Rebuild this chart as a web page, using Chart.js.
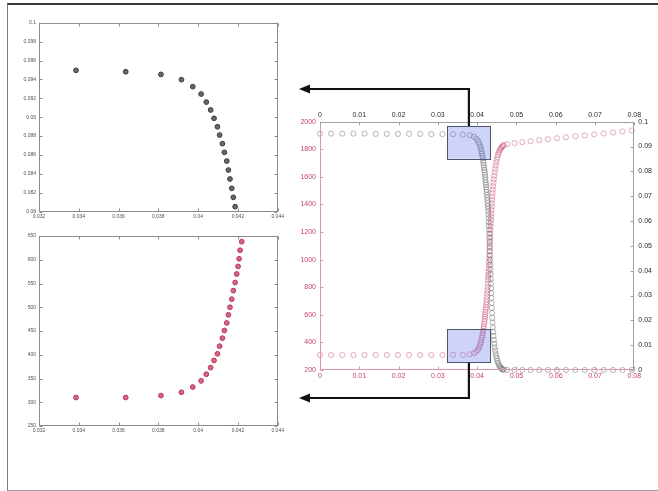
<!DOCTYPE html>
<html>
<head>
<meta charset="utf-8">
<script src="https://cdn.jsdelivr.net/npm/chart.js@4.4.1/dist/chart.umd.min.js"></script>
<style>
  html, body { margin: 0; padding: 0; background: #fff; }
  #wrap { position: relative; width: 658px; height: 491px; overflow: hidden; background: #fff; }
  #frame { position: absolute; left: 7px; top: 3px; width: 700px; height: 485px;
           border-top: 2px solid #3a3a3a; border-left: 1px solid #7a7a7a; border-bottom: 2px solid #9a9a9a; }
  canvas { position: absolute; }
</style>
</head>
<body>
<div id="wrap">
  <div id="frame"></div>
  <canvas id="main" width="658" height="491" style="left:0;top:0"></canvas>
  <canvas id="insetTop" width="290" height="225" style="left:0;top:0"></canvas>
  <canvas id="insetBottom" width="290" height="225" style="left:0;top:225px"></canvas>
</div>
<script>
// Sample positions shared by both profiles
const positions = [
  0, 0.00283, 0.00567, 0.0085, 0.01133, 0.01417, 0.017, 0.01983, 0.02267, 0.0255, 0.02833, 0.03117,
  0.03386, 0.03636, 0.03813, 0.03916, 0.03973, 0.04015, 0.04041, 0.04063, 0.0408, 0.04097, 0.04108, 0.04122,
  0.04132, 0.04144, 0.04152, 0.0416, 0.04169, 0.04177, 0.04186, 0.04194, 0.04201, 0.04206, 0.04211, 0.04219,
  0.04225, 0.04231, 0.04237, 0.04243, 0.04249, 0.04255, 0.04261, 0.04267, 0.04273, 0.04279,
  0.04283, 0.04287, 0.04291, 0.04295, 0.04299, 0.04303, 0.04307, 0.04311, 0.04315, 0.04319,
  0.04323, 0.04327, 0.04331, 0.04335, 0.04339, 0.04343, 0.04347, 0.04351, 0.04355, 0.04359,
  0.04364, 0.04369, 0.04374, 0.0438, 0.04386, 0.04393, 0.044, 0.04408, 0.04416, 0.04425,
  0.04435, 0.04446, 0.04458, 0.04471, 0.04485, 0.045, 0.04516, 0.04533, 0.04551, 0.0457,
  0.0459, 0.04611, 0.04633, 0.04656, 0.0468,
  0.0476, 0.0495, 0.0515, 0.0536, 0.0558, 0.058, 0.0603, 0.0626, 0.065, 0.0674, 0.0698, 0.0722, 0.0746, 0.077, 0.0794
];

// Black profile (right axis)
const blackProfile = [
  0.0952, 0.0952, 0.0952, 0.0952, 0.0952, 0.0951, 0.0951, 0.0951, 0.0951, 0.0951, 0.0950, 0.0950,
  0.09496, 0.09481, 0.09453, 0.09397, 0.09323, 0.09245, 0.0916, 0.09076, 0.08988, 0.08899, 0.08811, 0.0872,
  0.08628, 0.08536, 0.08441, 0.08346, 0.08247, 0.08152, 0.08053, 0.0796, 0.0786, 0.0776, 0.0766, 0.0756,
  0.0746, 0.0736, 0.0726, 0.0716, 0.0705, 0.0694, 0.0683, 0.0672, 0.0661, 0.065,
  0.0638, 0.0625, 0.0611, 0.0596, 0.0581, 0.0565, 0.0549, 0.0532, 0.0515, 0.0497,
  0.0479, 0.0461, 0.0443, 0.0424, 0.0405, 0.0386, 0.0367, 0.0348, 0.0329, 0.031,
  0.029, 0.027, 0.025, 0.023, 0.021, 0.0191, 0.0172, 0.0154, 0.0137, 0.0121,
  0.0106, 0.0092, 0.0079, 0.0067, 0.0056, 0.0046, 0.0037, 0.0029, 0.0022, 0.0016,
  0.0011, 0.0007, 0.0004, 0.0002, 0.0001,
  0, 0, 0, 0, 0, 0, 0, 0, 0, 0, 0, 0, 0, 0, 0
];

// Red profile (left axis)
const redProfile = [
  309, 309, 309, 309, 309, 309, 309, 309, 309, 309, 309, 309,
  310, 310, 314, 321, 332, 345, 359, 373, 388, 402, 418, 435,
  451, 467, 484, 500, 517, 535, 552, 570, 586, 602, 620, 638,
  655, 673, 692, 712, 733, 755, 778, 802, 827, 853,
  872, 892, 913, 935, 958, 982, 1007, 1033, 1059, 1085,
  1111, 1137, 1163, 1189, 1215, 1240, 1265, 1289, 1312, 1334,
  1360, 1385, 1409, 1434, 1458, 1483, 1508, 1533, 1558, 1583,
  1608, 1633, 1658, 1682, 1705, 1726, 1745, 1762, 1777, 1790,
  1801, 1810, 1818, 1825, 1831,
  1837, 1845, 1852, 1859, 1866, 1873, 1880, 1887, 1894, 1901, 1908, 1915, 1922, 1929, 1936
];

// Tick values and labels
const mainXTicks = [0, 0.01, 0.02, 0.03, 0.04, 0.05, 0.06, 0.07, 0.08];
const mainXLabels = ['0', '0.01', '0.02', '0.03', '0.04', '0.05', '0.06', '0.07', '0.08'];
const leftTicks = [200, 400, 600, 800, 1000, 1200, 1400, 1600, 1800, 2000];
const leftLabels = ['200', '400', '600', '800', '1000', '1200', '1400', '1600', '1800', '2000'];
const rightTicks = [0, 0.01, 0.02, 0.03, 0.04, 0.05, 0.06, 0.07, 0.08, 0.09, 0.1];
const rightLabels = ['0', '0.01', '0.02', '0.03', '0.04', '0.05', '0.06', '0.07', '0.08', '0.09', '0.1'];
const zoomXTicks = [0.032, 0.034, 0.036, 0.038, 0.04, 0.042, 0.044];
const zoomXLabels = ['0.032', '0.034', '0.036', '0.038', '0.04', '0.042', '0.044'];
const zoomBlackTicks = [0.08, 0.082, 0.084, 0.086, 0.088, 0.09, 0.092, 0.094, 0.096, 0.098, 0.1];
const zoomBlackLabels = ['0.08', '0.082', '0.084', '0.086', '0.088', '0.09', '0.092', '0.094', '0.096', '0.098', '0.1'];
const zoomRedTicks = [250, 300, 350, 400, 450, 500, 550, 600, 650];
const zoomRedLabels = ['250', '300', '350', '400', '450', '500', '550', '600', '650'];

// Highlighted regions on the main plot
const boxX = [0.0324, 0.0434];
const boxBlackY = [0.0851, 0.0983];
const boxRedY = [253, 495];

Chart.defaults.font.family = '"Liberation Sans", Arial, sans-serif';

const RED = '#c4436a';
const RED_AXIS = '#dc98a8';
const GRAY_AXIS = '#a0a0a0';

function fixedTicks(values, labels, color, size, padding) {
  return {
    afterBuildTicks: s => { s.ticks = values.map(v => ({ value: v })); },
    ticks: { color, font: { size }, padding, autoSkip: false, maxRotation: 0,
             callback: (v, i) => labels[i] }
  };
}

function axis(base, extra) {
  return Object.assign({ type: 'linear',
                         grid: { display: false, drawTicks: false, tickLength: 0 },
                         border: { display: false } }, base, extra);
}

// Draws axis lines plus short inward tick marks
const frameTicks = {
  id: 'frameTicks',
  afterDatasetsDraw(chart, args, opts) {
    const ctx = chart.ctx, a = chart.chartArea, len = opts.len || 3;
    ctx.save();
    ctx.lineWidth = 1;
    for (const s of opts.sides) {
      const sc = chart.scales[s.scale];
      ctx.strokeStyle = s.color;
      ctx.beginPath();
      if (s.side === 'left') {
        const x = Math.round(a.left) + 0.5;
        ctx.moveTo(x, a.top); ctx.lineTo(x, a.bottom);
        sc.ticks.forEach(t => { const y = Math.round(sc.getPixelForValue(t.value)) + 0.5; ctx.moveTo(x, y); ctx.lineTo(x + len, y); });
      } else if (s.side === 'right') {
        const x = Math.round(a.right) - 0.5;
        ctx.moveTo(x, a.top); ctx.lineTo(x, a.bottom);
        sc.ticks.forEach(t => { const y = Math.round(sc.getPixelForValue(t.value)) + 0.5; ctx.moveTo(x, y); ctx.lineTo(x - len, y); });
      } else if (s.side === 'top') {
        const y = Math.round(a.top) + 0.5;
        ctx.moveTo(a.left, y); ctx.lineTo(a.right, y);
        sc.ticks.forEach(t => { const x = Math.round(sc.getPixelForValue(t.value)) + 0.5; ctx.moveTo(x, y); ctx.lineTo(x, y + len); });
      } else {
        const y = Math.round(a.bottom) - 0.5;
        ctx.moveTo(a.left, y); ctx.lineTo(a.right, y);
        sc.ticks.forEach(t => { const x = Math.round(sc.getPixelForValue(t.value)) + 0.5; ctx.moveTo(x, y); ctx.lineTo(x, y - len); });
      }
      ctx.stroke();
    }
    ctx.restore();
  }
};

// Translucent highlight boxes and the leader arrows
const highlights = {
  id: 'highlights',
  afterDraw(chart) {
    const ctx = chart.ctx;
    const xs = chart.scales.xTop, xb = chart.scales.xBottom;
    const yr = chart.scales.yRight, yl = chart.scales.yLeft;
    const top = { l: xs.getPixelForValue(boxX[0]), r: xs.getPixelForValue(boxX[1]),
                  t: yr.getPixelForValue(boxBlackY[1]), b: yr.getPixelForValue(boxBlackY[0]) };
    const bot = { l: xb.getPixelForValue(boxX[0]), r: xb.getPixelForValue(boxX[1]),
                  t: yl.getPixelForValue(boxRedY[1]), b: yl.getPixelForValue(boxRedY[0]) };
    ctx.save();
    [top, bot].forEach(b => {
      ctx.fillStyle = 'rgba(105,120,235,0.33)';
      ctx.fillRect(b.l, b.t, b.r - b.l, b.b - b.t);
      ctx.strokeStyle = '#50556e';
      ctx.lineWidth = 1;
      ctx.strokeRect(Math.round(b.l) + 0.5, Math.round(b.t) + 0.5, Math.round(b.r - b.l), Math.round(b.b - b.t));
    });
    const tipX = 299, headLen = 11, headHalf = 4.5;
    function arrow(x0, y0, yTurn) {
      ctx.strokeStyle = '#111';
      ctx.lineWidth = 2.2;
      ctx.beginPath();
      ctx.moveTo(x0, y0);
      ctx.lineTo(x0, yTurn);
      ctx.lineTo(tipX + headLen - 1, yTurn);
      ctx.stroke();
      ctx.fillStyle = '#111';
      ctx.beginPath();
      ctx.moveTo(tipX, yTurn);
      ctx.lineTo(tipX + headLen, yTurn - headHalf);
      ctx.lineTo(tipX + headLen, yTurn + headHalf);
      ctx.closePath();
      ctx.fill();
    }
    arrow((top.l + top.r) / 2, top.t, 89);
    arrow((bot.l + bot.r) / 2, bot.b, 398);
    ctx.restore();
  }
};

const baseOpts = {
  responsive: false, animation: false, devicePixelRatio: 1,
  events: [],
};

// Main plot with two x axes and two y axes
new Chart(document.getElementById('main'), {
  type: 'scatter',
  data: {
    datasets: [
      { data: positions.map((x, i) => ({ x, y: blackProfile[i] })), xAxisID: 'xTop', yAxisID: 'yRight',
        pointRadius: 2.6, pointBorderWidth: 0.9, borderColor: 'rgba(95,95,95,0.5)',
        backgroundColor: 'rgba(0,0,0,0)', clip: false },
      { data: positions.map((x, i) => ({ x, y: redProfile[i] })), xAxisID: 'xBottom', yAxisID: 'yLeft',
        pointRadius: 2.6, pointBorderWidth: 0.9, borderColor: 'rgba(200,70,110,0.5)',
        backgroundColor: 'rgba(0,0,0,0)', clip: false }
    ]
  },
  options: Object.assign({}, baseOpts, {
    layout: { padding: 0 },
    plugins: { legend: { display: false }, tooltip: { enabled: false },
      frameTicks: { len: 3, sides: [
        { side: 'left', scale: 'yLeft', color: RED_AXIS },
        { side: 'bottom', scale: 'xBottom', color: RED_AXIS },
        { side: 'top', scale: 'xTop', color: GRAY_AXIS },
        { side: 'right', scale: 'yRight', color: GRAY_AXIS }
      ] } },
    scales: {
      xBottom: axis({ position: 'bottom', min: 0, max: 0.08, afterFit: s => { s.height = 121; } },
                    fixedTicks(mainXTicks, mainXLabels, RED, 7, 2)),
      xTop: axis({ position: 'top', min: 0, max: 0.08, afterFit: s => { s.height = 121.7; } },
                 fixedTicks(mainXTicks, mainXLabels, '#2a2a2a', 7, 2)),
      yLeft: axis({ position: 'left', min: 200, max: 2000, afterFit: s => { s.width = 320; } },
                  fixedTicks(leftTicks, leftLabels, RED, 7, 4)),
      yRight: axis({ position: 'right', min: 0, max: 0.1, afterFit: s => { s.width = 23.7; } },
                   fixedTicks(rightTicks, rightLabels, '#2a2a2a', 7, 4))
    }
  }),
  plugins: [frameTicks, highlights]
});

// Enlarged views of the highlighted regions
function inset(id, values, yMin, yMax, yTicks, yLabels, padTop, xHeight, fill, edge) {
  const pts = positions.map((x, i) => ({ x, y: values[i] }))
    .filter(p => p.x >= 0.032 && p.x <= 0.044 && p.y >= yMin && p.y <= yMax);
  new Chart(document.getElementById(id), {
    type: 'scatter',
    data: { datasets: [{ data: pts, pointRadius: 2.4, pointBorderWidth: 1,
                         backgroundColor: fill, borderColor: edge, clip: false }] },
    options: Object.assign({}, baseOpts, {
      layout: { padding: { top: padTop, right: 12.3, left: 0, bottom: 0 } },
      plugins: { legend: { display: false }, tooltip: { enabled: false },
        frameTicks: { len: 3, sides: [
          { side: 'left', scale: 'y', color: '#8c8c8c' },
          { side: 'right', scale: 'y', color: '#8c8c8c' },
          { side: 'top', scale: 'x', color: '#8c8c8c' },
          { side: 'bottom', scale: 'x', color: '#8c8c8c' }
        ] } },
      scales: {
        x: axis({ position: 'bottom', min: 0.032, max: 0.044, afterFit: s => { s.height = xHeight; } },
                fixedTicks(zoomXTicks, zoomXLabels, '#505050', 5, 1.5)),
        y: axis({ position: 'left', min: yMin, max: yMax, afterFit: s => { s.width = 39; } },
                fixedTicks(yTicks, yLabels, '#505050', 5, 3))
      }
    }),
    plugins: [frameTicks]
  });
}

inset('insetTop', blackProfile, 0.08, 0.1, zoomBlackTicks, zoomBlackLabels, 22.7, 13.3,
      'rgba(95,95,95,0.95)', '#3c3c3c');
inset('insetBottom', redProfile, 250, 650, zoomRedTicks, zoomRedLabels, 11, 24,
      'rgba(214,92,118,0.95)', '#b23a5a');
</script>
</body>
</html>
